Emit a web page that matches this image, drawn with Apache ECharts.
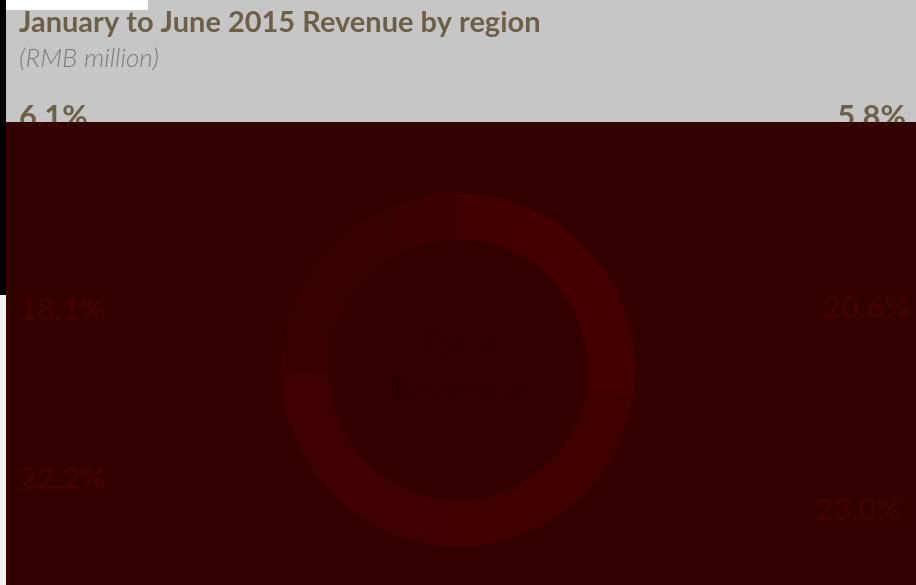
<!DOCTYPE html>
<html>
<head>
<meta charset="utf-8">
<title>January to June 2015 Revenue by region</title>
<script src="https://cdn.jsdelivr.net/npm/echarts@6/dist/echarts.min.js"></script>
<style>
  html, body { margin: 0; padding: 0; background: #c6c6c6; }
  #chart { width: 916px; height: 585px; }
</style>
</head>
<body>
<div id="chart"></div>
<script>
// slices clockwise from 12 o'clock
const regions = ['Region 1', 'Region 2', 'Region 3', 'Region 4', 'Region 5', 'Region 6'];
const shares = [5.8, 20.6, 23.0, 22.2, 18.1, 6.1];
const sliceColors = ['#b80000', '#c80000', '#a80000', '#a00000', '#700000', '#900000'];

const titleColor = '#6e6048';
const hiddenLabelColor = '#c01818';
const labelSpots = [
  { x: 906, y: 117, align: 'right' },
  { x: 910, y: 308, align: 'right' },
  { x: 902, y: 510, align: 'right' },
  { x: 19, y: 479, align: 'left' },
  { x: 19, y: 310, align: 'left' },
  { x: 19, y: 117, align: 'left' }
];

const chart = echarts.init(document.getElementById('chart'));

chart.setOption({
  backgroundColor: '#c6c6c6',
  animation: false,
  textStyle: { fontFamily: 'Lato, "Open Sans", sans-serif' },
  title: {
    text: 'January to June 2015 Revenue by region',
    subtext: '(RMB million)',
    left: 14,
    top: 3,
    itemGap: 9,
    textStyle: { color: titleColor, fontSize: 29, fontWeight: 'bold' },
    subtextStyle: { color: '#7c7c7c', fontSize: 26, fontStyle: 'italic', fontWeight: 300 }
  },
  series: [{
    type: 'pie',
    center: [458, 370],
    radius: [130, 177],
    startAngle: 90,
    clockwise: true,
    silent: true,
    label: {
      show: true,
      formatter: (p) => p.value.toFixed(1) + '%',
      color: titleColor,
      fontSize: 31,
      fontWeight: 'bold'
    },
    labelLine: { show: false },
    labelLayout: function (p) {
      const s = labelSpots[p.dataIndex];
      return { x: s.x, y: s.y, align: s.align, verticalAlign: 'middle' };
    },
    data: regions.map((name, i) => ({
      name: name,
      value: shares[i],
      itemStyle: { color: sliceColors[i] },
      // the two top labels sit on the grey band, the rest under the dark panel
      label: (i === 0 || i === 5) ? {} : { color: hiddenLabelColor }
    }))
  }],
  graphic: [
    {
      // dark ground under the chart body
      type: 'rect',
      z: -10,
      shape: { x: 6, y: 122, width: 910, height: 463 },
      style: { fill: '#330000' }
    },
    {
      type: 'text',
      left: 'center',
      top: 322,
      z: 10,
      style: {
        text: 'Total\nRevenue',
        fill: '#000000',
        font: 'bold 36px Lato, sans-serif',
        textAlign: 'center',
        lineHeight: 46
      }
    },
    {
      type: 'rect',
      z: 100,
      shape: { x: 6, y: 122, width: 910, height: 463 },
      style: { fill: 'rgba(51,0,0,0.9)' }
    },
    {
      type: 'rect',
      z: 100,
      shape: { x: 6, y: 0, width: 142, height: 10 },
      style: { fill: '#ffffff' }
    },
    {
      type: 'rect',
      z: 100,
      shape: { x: 0, y: 0, width: 6, height: 295 },
      style: { fill: '#000000' }
    },
    {
      type: 'rect',
      z: 100,
      shape: { x: 0, y: 295, width: 6, height: 290 },
      style: { fill: '#f2f2f2' }
    }
  ]
});
</script>
</body>
</html>
